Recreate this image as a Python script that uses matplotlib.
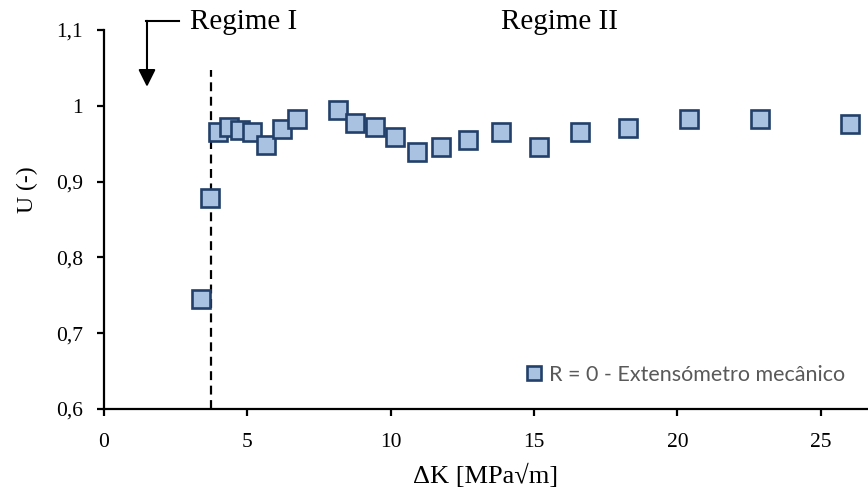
import matplotlib
matplotlib.use("Agg")
import matplotlib.pyplot as plt
from matplotlib.ticker import FuncFormatter

plt.rcParams.update({
    "font.family": "Liberation Serif",
    "font.size": 15,
})

# data
delta_k = [3.40, 3.71, 3.98, 4.35, 4.76, 5.18, 5.64, 6.22, 6.75, 8.15,
           8.77, 9.44, 10.15, 10.91, 11.76, 12.69, 13.84, 15.16, 16.59,
           18.29, 20.39, 22.90, 26.01]
u_vals = [0.745, 0.878, 0.965, 0.972, 0.968, 0.966, 0.948, 0.969, 0.983,
          0.994, 0.977, 0.972, 0.959, 0.939, 0.946, 0.955, 0.966, 0.946,
          0.965, 0.971, 0.983, 0.983, 0.976]
x_ticks = [0, 5, 10, 15, 20, 25]
y_ticks = [0.6, 0.7, 0.8, 0.9, 1.0, 1.1]
regime_limit = 3.75
series_label = "R = 0 - Extensómetro mecânico"


def comma_fmt(v, pos):
    s = "%g" % round(v, 2)
    return s.replace(".", ",")


fig = plt.figure(figsize=(8.68, 4.91), dpi=100)
ax = fig.add_axes([0.1198, 0.167, 0.8802, 0.772])

ax.plot(delta_k, u_vals, linestyle="none", marker="s", ms=12.5, mew=1.9,
        mfc="#a9c2e1", mec="#22406a", label=series_label, clip_on=False,
        zorder=3)

# regime boundary
ax.plot([regime_limit, regime_limit], [0.6, 1.047], color="black",
        lw=1.6, dashes=(4, 2.5), zorder=2)

ax.set_xlim(0, 26.65)
ax.set_ylim(0.6, 1.1)
ax.set_xticks(x_ticks)
ax.set_yticks(y_ticks)
ax.yaxis.set_major_formatter(FuncFormatter(comma_fmt))

for s in ["top", "right"]:
    ax.spines[s].set_visible(False)
for s in ["left", "bottom"]:
    ax.spines[s].set_linewidth(1.6)
ax.tick_params(axis="both", direction="out", length=5, width=1.6,
               labelsize=15.5, pad=10)
ax.tick_params(axis="x", pad=12)

ax.set_xlabel("ΔK [MPa√m]", fontsize=19, labelpad=9)
ax.set_ylabel("U (-)", fontsize=17)
ax.yaxis.set_label_coords(-0.086, 0.578)

# regime labels
ax.text(3.0, 1.1106, "Regime I", fontsize=21, ha="left", va="center")
ax.text(15.9, 1.1106, "Regime II", fontsize=21, ha="center", va="center")
ax.annotate("", xy=(1.5, 1.025), xytext=(1.5, 1.112),
            arrowprops=dict(arrowstyle="-|>", color="black", lw=1.5,
                            mutation_scale=26, shrinkA=0, shrinkB=0),
            annotation_clip=False)
ax.plot([1.47, 2.6], [1.112, 1.112], color="black", lw=1.5, clip_on=False)

leg = ax.legend(loc="lower right", bbox_to_anchor=(0.995, 0.013), frameon=False,
                handlelength=0.8, handletextpad=0.3, markerscale=0.75,
                prop={"family": "Lato", "size": 15.5})
for t in leg.get_texts():
    t.set_color("#595959")

fig.savefig("out.png", dpi=100)
